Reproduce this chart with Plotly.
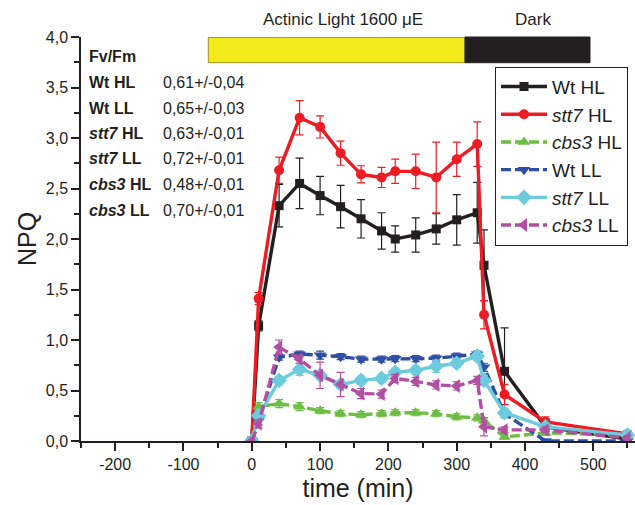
import plotly.graph_objects as go

# ---------------- data ----------------
time_min = [0, 10, 40, 70, 100, 130, 160, 190, 210, 240, 270, 300, 330, 340, 370, 430, 550]

wt_hl = [0, 1.14, 2.33, 2.55, 2.43, 2.32, 2.20, 2.08, 2.00, 2.04, 2.10, 2.19, 2.26, 1.74, 0.69, 0.14, 0.02]
wt_hl_err = [0.02, 0.05, 0.21, 0.25, 0.19, 0.21, 0.19, 0.18, 0.13, 0.17, 0.15, 0.25, 0.30, 0.35, 0.43, 0.08, 0.02]

stt7_hl = [0, 1.41, 2.68, 3.20, 3.11, 2.85, 2.64, 2.61, 2.67, 2.67, 2.61, 2.79, 2.94, 1.25, 0.46, 0.19, 0.07]
stt7_hl_err = [0.02, 0.06, 0.13, 0.17, 0.11, 0.12, 0.085, 0.10, 0.12, 0.17, 0.35, 0.17, 0.22, 0.14, 0.10, 0.05, 0.03]

cbs3_hl = [0, 0.34, 0.37, 0.34, 0.30, 0.27, 0.26, 0.27, 0.28, 0.28, 0.27, 0.24, 0.23, 0.20, 0.04, 0.08, 0.06]
cbs3_hl_err = [0.01, 0.04, 0.04, 0.04, 0.03, 0.03, 0.03, 0.03, 0.03, 0.03, 0.03, 0.03, 0.03, 0.03, 0.02, 0.02, 0.02]

wt_ll = [0, 0.20, 0.83, 0.86, 0.85, 0.835, 0.81, 0.81, 0.815, 0.815, 0.82, 0.84, 0.86, 0.73, 0.27, 0.0, 0.0]
wt_ll_err = [0.01, 0.04, 0.03, 0.03, 0.04, 0.03, 0.03, 0.03, 0.03, 0.03, 0.03, 0.03, 0.03, 0.04, 0.04, 0.01, 0.01]

stt7_ll = [0, 0.25, 0.60, 0.71, 0.65, 0.56, 0.60, 0.62, 0.68, 0.70, 0.74, 0.77, 0.84, 0.60, 0.28, 0.14, 0.06]
stt7_ll_err = [0.01, 0.04, 0.04, 0.06, 0.04, 0.04, 0.04, 0.04, 0.04, 0.04, 0.06, 0.04, 0.04, 0.05, 0.04, 0.03, 0.02]

cbs3_ll = [0, 0.17, 0.93, 0.81, 0.65, 0.56, 0.47, 0.465, 0.62, 0.59, 0.555, 0.545, 0.60, 0.14, 0.11, 0.11, 0.03]
cbs3_ll_err = [0.01, 0.04, 0.07, 0.04, 0.13, 0.12, 0.05, 0.04, 0.04, 0.04, 0.04, 0.04, 0.04, 0.09, 0.03, 0.03, 0.02]

series_names = ["Wt HL", "<i>stt7</i> HL", "<i>cbs3</i> HL", "Wt LL", "<i>stt7</i> LL", "<i>cbs3</i> LL"]
series_values = [wt_hl, stt7_hl, cbs3_hl, wt_ll, stt7_ll, cbs3_ll]
series_errors = [wt_hl_err, stt7_hl_err, cbs3_hl_err, wt_ll_err, stt7_ll_err, cbs3_ll_err]
series_colors = ["#231F20", "#ED1C24", "#6DBE45", "#2E4FA3", "#6CCBDD", "#B24FA2"]
series_symbols = ["square", "circle", "triangle-up", "triangle-down", "diamond", "triangle-left"]
series_dash = ["solid", "solid", "10px,4px", "10px,4px", "solid", "10px,4px"]
series_msize = [9, 10, 11, 11, 12, 12]

x_tick_vals = [-200, -100, 0, 100, 200, 300, 400, 500]
x_tick_text = ["-200", "-100", "0", "100", "200", "300", "400", "500"]
y_tick_vals = [0, 0.5, 1.0, 1.5, 2.0, 2.5, 3.0, 3.5, 4.0]
y_tick_text = ["0,0", "0,5", "1,0", "1,5", "2,0", "2,5", "3,0", "3,5", "4,0"]

fvfm_labels = ["<b>Wt HL</b>", "<b>Wt LL</b>", "<b><i>stt7</i> HL</b>", "<b><i>stt7</i> LL</b>",
               "<b><i>cbs3</i> HL</b>", "<b><i>cbs3</i> LL</b>"]
fvfm_values = ["0,61+/-0,04", "0,65+/-0,03", "0,63+/-0,01", "0,72+/-0,01", "0,48+/-0,01", "0,70+/-0,01"]

# ---------------- layout geometry ----------------
W, H = 635, 505
L, R, T, B = 81, 0, 37, 64
PW, PH = W - L - R, H - T - B


def px_x(p):
    return (p - L) / PW


def px_y(p):
    return (H - B - p) / PH


FONT = "Liberation Sans, Arial, Helvetica, sans-serif"
INK = "#231F20"

fig = go.Figure()
for name, vals, errs, col, sym, dash, ms in zip(series_names, series_values, series_errors,
                                                series_colors, series_symbols, series_dash, series_msize):
    fig.add_trace(go.Scatter(
        x=time_min, y=vals, name=name, mode="lines+markers",
        line=dict(color=col, width=3.4, dash=dash),
        marker=dict(symbol=sym, size=ms, color=col, line=dict(width=0)),
        error_y=dict(type="data", array=errs, visible=True, color=col, thickness=1.2, width=4),
    ))

annotations = []
annotations.append(dict(text="<b>Fv/Fm</b>", x=px_x(87), y=px_y(56.7), xref="paper", yref="paper",
                        xanchor="left", yanchor="middle", showarrow=False,
                        font=dict(size=16, color=INK, family=FONT)))
row_y = [82, 108.3, 133.3, 158.3, 184, 210]
for lab, val, py in zip(fvfm_labels, fvfm_values, row_y):
    annotations.append(dict(text=lab, x=px_x(87), y=px_y(py), xref="paper", yref="paper",
                            xanchor="left", yanchor="middle", showarrow=False,
                            font=dict(size=16, color=INK, family=FONT)))
    annotations.append(dict(text=val, x=px_x(161), y=px_y(py), xref="paper", yref="paper",
                            xanchor="left", yanchor="middle", showarrow=False,
                            font=dict(size=16, color=INK, family=FONT)))

annotations.append(dict(text="Actinic Light 1600 μE", x=px_x(343), y=px_y(20), xref="paper", yref="paper",
                        xanchor="center", yanchor="middle", showarrow=False,
                        font=dict(size=17, color=INK, family=FONT)))
annotations.append(dict(text="Dark", x=px_x(533), y=px_y(20), xref="paper", yref="paper",
                        xanchor="center", yanchor="middle", showarrow=False,
                        font=dict(size=17, color=INK, family=FONT)))

shapes = [
    dict(type="rect", xref="paper", yref="paper", x0=px_x(208.3), x1=px_x(465), y0=px_y(62.7), y1=px_y(37.5),
         fillcolor="#F2EA1A", line=dict(color="#9C962A", width=1)),
    dict(type="rect", xref="paper", yref="paper", x0=px_x(465), x1=px_x(590), y0=px_y(62.7), y1=px_y(37),
         fillcolor=INK, line=dict(color=INK, width=1)),
]

fig.update_layout(
    width=W, height=H,
    margin=dict(l=L, r=R, t=T, b=B, autoexpand=False),
    paper_bgcolor="white", plot_bgcolor="white",
    font=dict(family=FONT, size=16, color=INK),
    showlegend=True,
    legend=dict(x=px_x(495), y=px_y(66.7), xanchor="left", yanchor="top",
                bgcolor="white", bordercolor=INK, borderwidth=1,
                font=dict(size=19, family=FONT, color=INK), itemwidth=46,
                tracegroupgap=0),
    annotations=annotations,
    shapes=shapes,
    xaxis=dict(range=[-250, 561], tickmode="array", tickvals=x_tick_vals, ticktext=x_tick_text,
               ticks="outside", ticklen=8, tickwidth=1.5, tickcolor=INK,
               showline=True, linecolor=INK, linewidth=1.5, showgrid=False, zeroline=False,
               minor=dict(dtick=50, tick0=0, ticks="outside", ticklen=5, tickwidth=1.5, tickcolor=INK,
                          showgrid=False),
               tickfont=dict(size=16),
               title=dict(text="time (min)", font=dict(size=25), standoff=8)),
    yaxis=dict(range=[0, 4], tickmode="array", tickvals=y_tick_vals, ticktext=y_tick_text,
               ticks="outside", ticklen=8, tickwidth=1.5, tickcolor=INK,
               showline=True, linecolor=INK, linewidth=1.5, showgrid=False, zeroline=False,
               minor=dict(dtick=0.25, tick0=0, ticks="outside", ticklen=5, tickwidth=1.5, tickcolor=INK,
                          showgrid=False),
               tickfont=dict(size=16),
               title=dict(text="NPQ", font=dict(size=25), standoff=2)),
)

fig.write_html("out.html", config={"displayModeBar": False},
               post_script="document.body.style.margin='0';document.body.style.overflow='hidden';")
